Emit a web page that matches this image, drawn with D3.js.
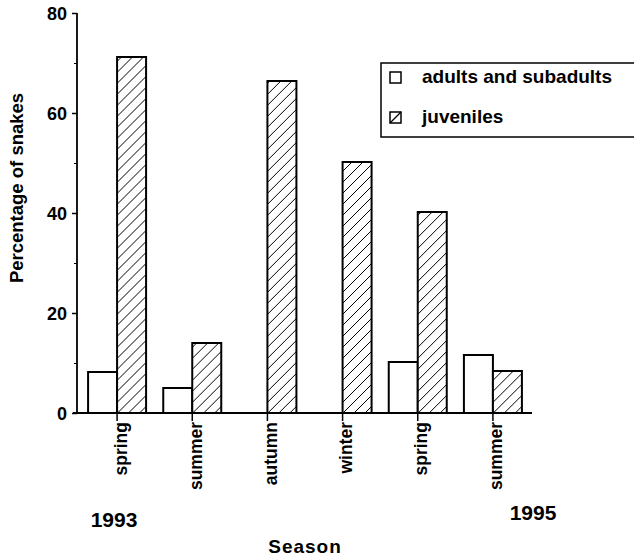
<!DOCTYPE html>
<html>
<head>
<meta charset="utf-8">
<script src="https://cdn.jsdelivr.net/npm/d3@7"></script>
<style>
  html, body { margin: 0; padding: 0; background: #fff; }
  svg { display: block; }
  text { font-family: "Liberation Sans", Arial, Helvetica, sans-serif; font-weight: bold; fill: #000; }
</style>
</head>
<body>
<svg id="chart" width="634" height="559"></svg>
<script>
// ---- data ----
const categories = ["spring", "summer", "autumn", "winter", "spring", "summer"];
const adults = [8.2, 5.0, 0, 0, 10.2, 11.6];
const juveniles = [71.2, 14.0, 66.4, 50.2, 40.2, 8.4];
const seriesNames = ["adults and subadults", "juveniles"];
const yMajorTicks = [0, 20, 40, 60, 80];
const yMinorTicks = [10, 30, 50, 70];
const yearLabels = ["1993", "1995"];

const svg = d3.select("#chart");

const y = d3.scaleLinear().domain([0, 80]).range([413, 13]);
const x = d3.scaleBand().domain(d3.range(categories.length)).range([79.5, 530.5]).padding(0);
const bw = x.bandwidth();
const x1 = d3.scaleBand().domain(["adults", "juveniles"]).range([bw / 2 - 29, bw / 2 + 29]).padding(0);

// hatch pattern
const defs = svg.append("defs");
const pat = defs.append("pattern")
  .attr("id", "hatch")
  .attr("patternUnits", "userSpaceOnUse")
  .attr("width", 11).attr("height", 11);
pat.append("rect").attr("width", 11).attr("height", 11).attr("fill", "#fff");
pat.append("path")
  .attr("d", "M-1,1 L1,-1 M0,11 L11,0 M10,12 L12,10")
  .attr("stroke", "#000").attr("stroke-width", 1);

const data = categories.map((c, i) => ({ i, c, adults: adults[i], juveniles: juveniles[i] }));

// bars
const groups = svg.append("g").selectAll("g").data(data).join("g")
  .attr("transform", d => `translate(${x(d.i)},0)`);

groups.filter(d => d.adults > 0).append("rect")
  .attr("x", x1("adults"))
  .attr("width", x1.bandwidth())
  .attr("y", d => y(d.adults))
  .attr("height", d => y(0) - y(d.adults))
  .attr("fill", "#fff").attr("stroke", "#000").attr("stroke-width", 2);

groups.append("rect")
  .attr("x", x1("juveniles"))
  .attr("width", x1.bandwidth())
  .attr("y", d => y(d.juveniles))
  .attr("height", d => y(0) - y(d.juveniles))
  .attr("fill", "url(#hatch)").attr("stroke", "#000").attr("stroke-width", 2);

// y axis
const yAxis = svg.append("g").attr("transform", "translate(77,0)")
  .call(d3.axisLeft(y).tickValues(yMajorTicks).tickSize(5).tickPadding(5).tickFormat(d3.format("d")));
yAxis.select(".domain").remove();
yAxis.selectAll(".tick line").attr("stroke-width", 1.5);
yAxis.selectAll(".tick text").style("font-size", "18px").style("font-weight", "bold").attr("dy", "0.35em");
svg.append("g").attr("transform", "translate(77,0)")
  .call(d3.axisLeft(y).tickValues(yMinorTicks).tickSize(3).tickFormat(""))
  .call(g => g.select(".domain").remove());
svg.append("line").attr("x1", 77).attr("x2", 77).attr("y1", y(80)).attr("y2", y(0))
  .attr("stroke", "#000").attr("stroke-width", 1.8);

// x axis
const xAxis = svg.append("g").attr("transform", `translate(0,${y(0)})`)
  .call(d3.axisBottom(x).tickSize(8).tickFormat(i => categories[i]));
xAxis.select(".domain").remove();
xAxis.selectAll(".tick").attr("transform", d => `translate(${x(d) + x1("juveniles")},0)`);
xAxis.selectAll(".tick line").attr("stroke-width", 1.5);
xAxis.selectAll(".tick text")
  .attr("transform", "rotate(-90)")
  .attr("x", -9).attr("y", 9.5).attr("dy", 0)
  .attr("text-anchor", "end")
  .style("font-size", "17.5px")
  .style("font-weight", "bold");
svg.append("line").attr("x1", 73).attr("x2", 532).attr("y1", y(0)).attr("y2", y(0))
  .attr("stroke", "#000").attr("stroke-width", 2);

// axis titles
svg.append("text")
  .attr("transform", "translate(23,188) rotate(-90)")
  .attr("text-anchor", "middle")
  .style("font-size", "18.5px")
  .text("Percentage of snakes");
svg.append("text")
  .attr("x", 305).attr("y", 553)
  .attr("text-anchor", "middle")
  .style("font-size", "19px").style("letter-spacing", "1px")
  .text("Season");
svg.append("text").attr("x", 114).attr("y", 527).attr("text-anchor", "middle")
  .style("font-size", "21px").text(yearLabels[0]);
svg.append("text").attr("x", 533).attr("y", 520).attr("text-anchor", "middle")
  .style("font-size", "21px").text(yearLabels[1]);

// legend
const lg = svg.append("g");
lg.append("rect").attr("x", 381).attr("y", 63).attr("width", 270).attr("height", 74)
  .attr("fill", "#fff").attr("stroke", "#000").attr("stroke-width", 1.5);
const lgY = [72, 112];
seriesNames.forEach((name, k) => {
  lg.append("rect").attr("x", 390).attr("y", lgY[k]).attr("width", 11).attr("height", 11)
    .attr("fill", "#fff").attr("stroke", "#000").attr("stroke-width", 1.5);
  if (k === 1) {
    lg.append("line").attr("x1", 390).attr("y1", lgY[k] + 11).attr("x2", 401).attr("y2", lgY[k])
      .attr("stroke", "#000").attr("stroke-width", 1.2);
  }
  lg.append("text").attr("x", 422).attr("y", lgY[k] + 11)
    .style("font-size", "19px").text(name);
});
</script>
</body>
</html>
